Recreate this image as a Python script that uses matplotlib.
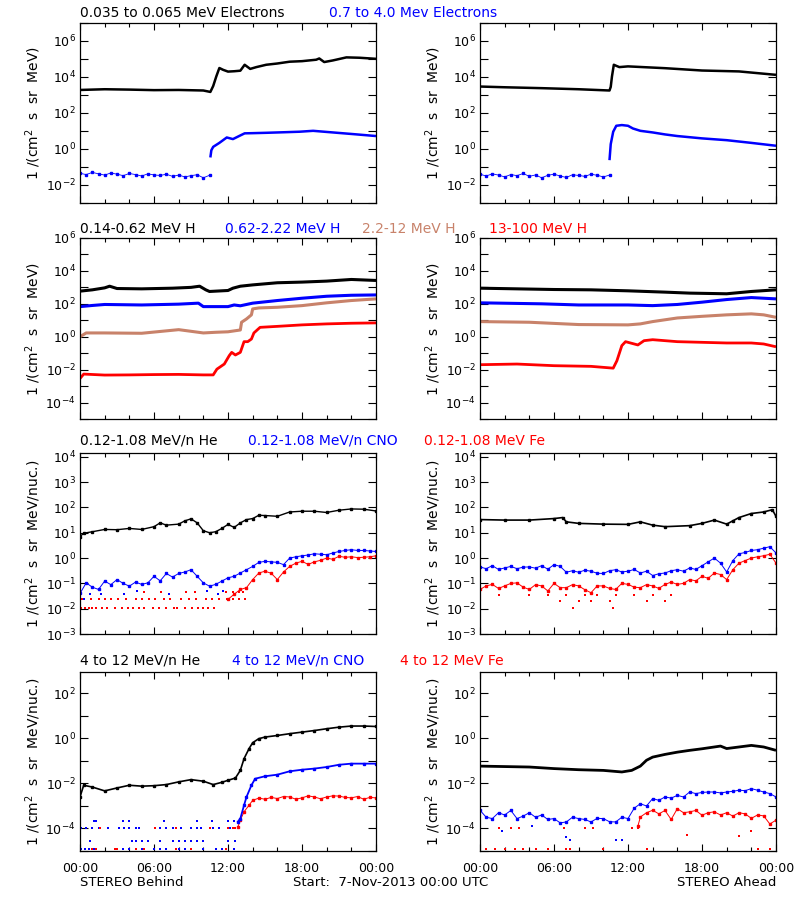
import numpy as np
import matplotlib.pyplot as plt
from matplotlib.ticker import FixedLocator, FuncFormatter

BLUE = '#0000ff'
RED = '#ff0000'
BROWN = '#c8826a'

# ---- row 1: electrons (values are log10 of intensity) ----
e_bg_t = [0, 0.5, 1, 1.5, 2, 2.5, 3, 3.5, 4, 4.5, 5, 5.5, 6, 6.5, 7, 7.5, 8, 8.5, 9, 9.5, 10, 10.5]
el_lo_b_t = [0, 2, 4, 6, 8, 10, 10.57, 10.8, 11.05, 11.3, 11.6, 12.0, 12.5, 13.0, 13.35, 13.8, 14.3,
             15.1, 16, 17, 18, 19.15, 19.4, 19.8, 20.5, 21.6, 22.65, 24]
el_lo_b = [3.28, 3.32, 3.30, 3.27, 3.28, 3.25, 3.17, 3.5, 4.03, 4.5, 4.4, 4.3, 4.32, 4.35, 4.68, 4.45, 4.55,
           4.68, 4.75, 4.85, 4.88, 4.96, 5.03, 4.83, 4.92, 5.09, 5.07, 5.01]
el_hi_b_bg = [-1.35, -1.42, -1.30, -1.38, -1.45, -1.33, -1.40, -1.48, -1.36, -1.42, -1.50,
              -1.38, -1.44, -1.47, -1.40, -1.52, -1.45, -1.55, -1.48, -1.43, -1.60, -1.46]
el_hi_b_t = [10.57, 10.65, 10.8, 11.3, 11.9, 12.4, 12.9, 13.35, 14, 15.1, 16.5, 17.8, 18.9, 20.5, 22.1, 24]
el_hi_b = [-0.47, -0.07, 0.12, 0.34, 0.64, 0.55, 0.72, 0.87, 0.88, 0.9, 0.93, 0.96, 1.01, 0.92, 0.83, 0.72]

el_lo_a_t = [0, 2, 5, 8, 10.5, 10.6, 10.7, 10.85, 11.05, 11.3, 12, 15, 18, 21, 24]
el_lo_a = [3.47, 3.43, 3.38, 3.32, 3.25, 3.45, 4.03, 4.68, 4.62, 4.55, 4.59, 4.49, 4.36, 4.31, 4.12]
el_hi_a_bg = [-1.40, -1.50, -1.38, -1.45, -1.55, -1.42, -1.48, -1.36, -1.52, -1.44, -1.60,
              -1.46, -1.40, -1.50, -1.58, -1.43, -1.47, -1.52, -1.40, -1.46, -1.55, -1.45]
el_hi_a_t = [10.5, 10.6, 10.8, 11.05, 11.5, 12, 12.4, 13, 14, 15, 16, 18, 20, 22, 24]
el_hi_a = [-0.62, 0.27, 0.96, 1.29, 1.33, 1.29, 1.14, 1.01, 0.92, 0.81, 0.72, 0.59, 0.49, 0.34, 0.18]

# ---- row 2: protons ----
h1_b_t = [0, 1, 2, 2.4, 3, 5, 7.5, 9, 9.7, 10.2, 10.5, 12, 12.4, 13, 14, 16, 18, 20, 22, 24]
h1_b = [2.77, 2.85, 2.97, 3.07, 2.93, 2.91, 2.95, 3.0, 3.07, 2.85, 2.75, 2.81, 2.95, 3.07, 3.15, 3.28, 3.32, 3.38, 3.48, 3.42]
h2_b_t = [0, 1, 2, 5, 8, 9.6, 10, 12, 12.5, 13, 14, 16, 18, 20, 22, 24]
h2_b = [1.83, 1.9, 1.96, 1.93, 1.98, 2.04, 1.83, 1.83, 1.93, 1.88, 2.04, 2.2, 2.34, 2.46, 2.52, 2.54]
h3_b_t = [0, 0.5, 2, 5, 8, 10, 11, 12, 13, 13.1, 13.5, 13.9, 14, 14.5, 16, 18, 20, 22, 24]
h3_b = [0.0, 0.23, 0.23, 0.21, 0.43, 0.23, 0.27, 0.3, 0.41, 0.88, 1.08, 1.33, 1.69, 1.75, 1.79, 1.89, 2.06, 2.2, 2.3]
h4_b_t = [0, 0.3, 2, 4, 6, 8, 10, 10.8, 11.1, 11.7, 12.1, 12.3, 12.6, 13.0, 13.3, 13.6, 13.9, 14.1, 14.6, 16, 18, 20, 22, 24]
h4_b = [-2.54, -2.27, -2.33, -2.32, -2.30, -2.29, -2.32, -2.32, -1.97, -1.66, -1.15, -0.95, -1.11, -0.95, -0.30,
        -0.30, -0.14, 0.23, 0.57, 0.63, 0.72, 0.78, 0.82, 0.84]

h1_a_t = [0, 3, 6, 9, 12, 15, 17, 20, 22, 24]
h1_a = [2.95, 2.91, 2.87, 2.85, 2.79, 2.71, 2.65, 2.61, 2.75, 2.85]
h2_a_t = [0, 5, 8, 12, 14, 16, 18, 20, 22, 24]
h2_a = [2.06, 2.0, 1.93, 1.93, 1.89, 1.96, 2.1, 2.26, 2.38, 2.3]
h3_a_t = [0, 4, 8, 12, 13, 14, 16, 18, 20, 22, 23, 24]
h3_a = [0.92, 0.88, 0.74, 0.72, 0.78, 0.92, 1.14, 1.24, 1.33, 1.39, 1.33, 1.18]
h4_a_t = [0, 3, 6, 9, 10.8, 11.1, 11.5, 11.8, 12.2, 12.8, 13.3, 14, 16, 18, 20, 22, 23, 24]
h4_a = [-1.70, -1.66, -1.76, -1.80, -1.91, -1.46, -0.54, -0.30, -0.38, -0.50, -0.24, -0.18, -0.30, -0.34,
        -0.38, -0.38, -0.44, -0.61]

# ---- row 3: 0.12-1.08 MeV/n heavy ions ----
half_t = [0, 0.5, 1, 1.5, 2, 2.5, 3, 3.5, 4, 4.5, 5, 5.5, 6, 6.5, 7, 7.5, 8, 8.5, 9, 9.5,
          10, 10.5, 11, 11.5, 12, 12.5, 13, 13.5, 14, 14.5, 15, 15.5, 16, 16.5, 17, 17.5, 18, 18.5, 19, 19.5,
          20, 20.5, 21, 21.5, 22, 22.5, 23, 23.5, 24]
he1_b_t = [0, 0.3, 1, 2, 3, 4, 5, 6, 6.5, 7, 8, 8.5, 9, 9.5, 10, 10.5, 11, 11.5, 12, 12.5, 13, 13.5,
           14, 14.5, 15, 16, 17, 18, 19, 20, 21, 22, 23, 24]
he1_b = [0.85, 0.98, 1.04, 1.13, 1.12, 1.17, 1.13, 1.24, 1.39, 1.30, 1.34, 1.47, 1.55, 1.39, 1.08, 1.0, 1.04,
         1.17, 1.33, 1.21, 1.39, 1.52, 1.56, 1.69, 1.68, 1.65, 1.82, 1.85, 1.85, 1.80, 1.89, 1.94, 1.93, 1.86]
cno1_b = [-1.40, -0.98, -1.15, -1.24, -0.91, -1.05, -0.85, -1.00, -1.11, -0.95,
          -1.04, -0.98, -0.72, -0.90, -0.61, -0.75, -0.61, -0.55, -0.46, -0.72,
          -0.98, -1.11, -1.04, -0.91, -0.78, -0.72, -0.59, -0.46, -0.33, -0.17,
          -0.13, -0.15, -0.17, -0.26, 0.00, 0.05, 0.09, 0.12, 0.17, 0.15,
          0.13, 0.20, 0.26, 0.30, 0.33, 0.30, 0.30, 0.28, 0.26]
cno1_b_low_t = [0, 0.3, 0.8, 1.7, 3.6, 4.6, 7.2, 10.3, 11.2, 11.6]
cno1_b_low = [-1.63, -1.63, -1.43, -1.43, -1.43, -1.30, -1.43, -1.30, -1.43, -1.30]
fe1_b_l1_t = [0.1, 0.4, 0.7, 1.0, 1.3, 1.8, 2.2, 2.8, 3.4, 3.9, 4.3, 4.8, 5.2, 5.9, 6.4, 7.0,
              7.6, 7.9, 8.5, 9.1, 9.6, 10.0, 10.4, 10.9]
fe1_b_l2_t = [0.2, 0.9, 1.5, 2.0, 2.5, 3.1, 3.7, 4.5, 5.0, 5.6, 6.1, 6.8, 7.3, 8.2, 8.8, 9.4, 10.2,
              10.7, 11.3, 11.9, 12.4, 12.9, 13.4]
fe1_b_l3_t = [5.2, 6.6, 8.6, 9.3, 11.8, 12.4, 12.9, 13.2]
fe1_b_t = [12, 12.5, 13, 13.5, 14, 14.5, 15, 15.5, 16, 16.5, 17, 17.5, 18, 18.5, 19, 19.5, 20, 20.5,
           21, 21.5, 22, 22.5, 23, 23.5, 24]
fe1_b = [-1.63, -1.43, -1.24, -1.17, -0.85, -0.59, -0.52, -0.60, -0.85, -0.55, -0.33, -0.20, -0.13, -0.25,
         -0.15, -0.09, 0.0, -0.05, 0.07, 0.03, 0.05, 0.02, 0.03, 0.05, 0.09]

he1_a_t = [0, 2, 4, 6, 6.7, 7, 8, 10, 12, 13, 14, 15, 17, 18, 19, 20, 20.5, 21, 22, 23, 23.7, 24]
he1_a = [1.52, 1.50, 1.50, 1.56, 1.60, 1.43, 1.37, 1.34, 1.33, 1.43, 1.30, 1.24, 1.28, 1.37, 1.50, 1.34,
         1.47, 1.60, 1.76, 1.82, 1.91, 1.65]
cno1_a = [-0.35, -0.42, -0.30, -0.45, -0.39, -0.33, -0.42, -0.36, -0.35, -0.40,
          -0.30, -0.44, -0.26, -0.33, -0.56, -0.50, -0.56, -0.48, -0.52, -0.60,
          -0.61, -0.50, -0.46, -0.55, -0.52, -0.45, -0.59, -0.52, -0.69, -0.62,
          -0.59, -0.50, -0.46, -0.52, -0.39, -0.45, -0.30, -0.15, 0.00, -0.20,
          -0.55, -0.10, 0.17, 0.22, 0.30, 0.33, 0.39, 0.45, 0.20]
fe1_a = [-1.24, -1.10, -1.04, -1.20, -1.10, -1.00, -0.98, -1.15, -1.24, -1.05,
         -1.10, -1.30, -1.00, -1.17, -1.17, -1.05, -1.10, -1.25, -1.37, -1.10,
         -1.10, -1.20, -1.24, -1.00, -1.04, -1.15, -1.17, -1.05, -1.10, -1.20,
         -1.04, -0.95, -1.04, -1.00, -0.85, -0.90, -0.72, -0.80, -0.59, -0.65,
         -0.85, -0.46, -0.20, -0.10, 0.00, 0.05, 0.09, 0.15, -0.20]
fe1_a_low_t = [1.5, 4.0, 5.5, 7.0, 8.5, 9.5, 11.0, 12.5, 14.0, 15.5, 6.5, 8.0, 9.0, 10.5, 13.5, 15.0, 7.5, 10.8]
fe1_a_low = [-1.45, -1.45, -1.45, -1.45, -1.45, -1.45, -1.45, -1.45, -1.45, -1.45,
             -1.70, -1.70, -1.70, -1.70, -1.70, -1.70, -1.98, -1.98]

# ---- row 4: 4-12 MeV/n heavy ions ----
he2_b_t = [0, 0.3, 1, 2, 3, 4, 5, 6, 7, 8, 9, 10, 10.8, 11.5, 12, 12.6, 13, 13.3, 13.7, 14, 14.5, 15,
           16, 17, 18, 19, 20, 21, 22, 23, 24]
he2_b = [-2.6, -2.08, -2.16, -2.33, -2.2, -2.08, -2.12, -2.1, -2.05, -1.93, -1.83, -1.9, -2.05, -1.95,
         -1.86, -1.76, -1.42, -0.9, -0.46, -0.19, -0.01, 0.06, 0.13, 0.21, 0.28, 0.35, 0.43, 0.5, 0.55, 0.55, 0.53]
cno2_b_low_t = [0.1, 0.5, 1.0, 1.5, 2.3, 3.2, 3.6, 4.0, 4.5, 4.8, 6.5, 7.0, 7.5, 7.8, 8.2, 9.0, 9.5, 9.8,
                10.8, 11.3, 12.2,
                1.1, 1.3, 3.5, 4.0, 6.8, 9.5, 10.7, 12.0, 12.5,
                0.8, 4.2, 4.5, 5.0, 5.5, 6.5, 7.5, 8.0, 8.5, 9.0, 9.5, 10.0, 12.0, 12.6,
                0.1, 0.4, 0.7, 1.1, 3.5, 4.0, 4.5, 5.0, 6.0, 6.5, 7.0, 8.0, 8.5, 9.0, 10.0, 11.0, 11.5, 12.5]
cno2_b_low = [-4.0] * 21 + [-3.65] * 9 + [-4.55] * 14 + [-4.92] * 18
cno2_b_t = [12.8, 13.0, 13.3, 13.5, 13.9, 14.2, 15, 16, 17, 18, 19, 20, 21, 22, 23, 24]
cno2_b = [-3.7, -3.56, -2.97, -2.6, -2.08, -1.79, -1.68, -1.61, -1.46, -1.39, -1.34, -1.27, -1.17, -1.12, -1.12, -1.12]
fe2_b_low_t = [1.6, 6.1, 7.8, 10.5, 12.0, 12.4, 12.6, 1.0, 1.3, 2.8, 3.0, 4.5, 5.2, 7.8, 9.0, 11.8]
fe2_b_low = [-4.0] * 7 + [-4.92] * 9
fe2_b_t = [12.8, 13.0, 13.3, 13.7, 14, 14.5, 15, 15.5, 16, 16.5, 17, 17.5, 18, 18.5, 19, 19.5, 20, 20.5,
           21, 21.5, 22, 22.5, 23, 23.5, 24]
fe2_b = [-3.93, -3.63, -3.26, -2.97, -2.75, -2.65, -2.70, -2.62, -2.67, -2.58, -2.60, -2.70, -2.64, -2.55,
         -2.60, -2.68, -2.60, -2.55, -2.56, -2.62, -2.64, -2.58, -2.70, -2.62, -2.64]

he2_a_t = [0, 2, 4, 6, 8, 10, 11.5, 12.3, 13, 13.5, 14, 15, 16, 17, 18, 19, 19.5, 20, 21, 22, 23, 24]
he2_a = [-1.23, -1.25, -1.27, -1.34, -1.39, -1.42, -1.49, -1.42, -1.23, -0.97, -0.83, -0.71, -0.61, -0.53,
         -0.46, -0.38, -0.34, -0.45, -0.38, -0.31, -0.38, -0.53]
cno2_a = [-3.19, -3.50, -3.56, -3.30, -3.40, -3.20, -3.56, -3.45, -3.30, -3.50,
          -3.40, -3.60, -3.56, -3.75, -3.71, -3.50, -3.56, -3.60, -3.71, -3.55,
          -3.56, -3.70, -3.71, -3.50, -3.56, -3.10, -2.90, -3.00, -2.67, -2.75,
          -2.60, -2.65, -2.53, -2.60, -2.38, -2.45, -2.40, -2.38, -2.38, -2.42,
          -2.38, -2.35, -2.30, -2.32, -2.23, -2.30, -2.38, -2.45, -2.60]
cno2_a_low_t = [7.0, 7.3, 11.0, 11.5, 1.8, 4.2]
cno2_a_low = [-4.4, -4.5, -4.5, -4.5, -4.1, -3.9]
fe2_a_low_t = [1.5, 2.5, 3.2, 6.8, 8.5, 9.2, 12.3, 12.8, 0.5, 1.2, 2.0, 2.8, 3.5, 4.5, 5.5, 7.0, 7.3, 10.0,
               13.5, 22.5, 23.5, 16.8, 21.0, 22.0]
fe2_a_low = [-4.0] * 8 + [-4.92] * 13 + [-4.3, -4.35, -4.1]
fe2_a_t = [12.8, 13, 13.5, 14, 14.5, 15, 15.5, 16, 16.5, 17, 17.5, 18, 18.5, 19, 19.5, 20, 20.5, 21, 21.5,
           22, 22.5, 23, 23.5, 24]
fe2_a = [-3.9, -3.49, -3.3, -3.19, -3.35, -3.2, -3.6, -3.12, -3.3, -3.26, -3.2, -3.41, -3.3, -3.26, -3.4,
         -3.3, -3.45, -3.3, -3.35, -3.55, -3.4, -3.44, -3.8, -3.63]

ylims = [(1e-3, 1e7), (1e-5, 1e6), (1e-3, 10 ** 4.15), (1e-5, 10 ** 2.95)]
label_decades = [[-2, 0, 2, 4, 6], [-4, -2, 0, 2, 4, 6], [-3, -2, -1, 0, 1, 2, 3, 4], [-4, -2, 0, 2]]
ylabels = ['1 /(cm$^2$  s  sr  MeV)', '1 /(cm$^2$  s  sr  MeV)',
           '1 /(cm$^2$  s  sr  MeV/nuc.)', '1 /(cm$^2$  s  sr  MeV/nuc.)']
row_titles = [
    [('0.035 to 0.065 MeV Electrons', 'black', 80), ('0.7 to 4.0 Mev Electrons', BLUE, 329)],
    [('0.14-0.62 MeV H', 'black', 80), ('0.62-2.22 MeV H', BLUE, 225),
     ('2.2-12 MeV H', BROWN, 362), ('13-100 MeV H', RED, 489)],
    [('0.12-1.08 MeV/n He', 'black', 80), ('0.12-1.08 MeV/n CNO', BLUE, 248), ('0.12-1.08 MeV Fe', RED, 424)],
    [('4 to 12 MeV/n He', 'black', 80), ('4 to 12 MeV/n CNO', BLUE, 232), ('4 to 12 MeV Fe', RED, 400)],
]
title_y = [13, 229, 441, 661]
row_px = [(23, 203), (238, 419), (453, 634), (672, 851)]

plt.rcParams['font.family'] = 'DejaVu Sans'
plt.rcParams['font.size'] = 9
fig = plt.figure(figsize=(8, 9), dpi=100)
W, H = 800, 900


def line(ax, t, v, c, lw=2.0):
    ax.plot(t, 10 ** np.array(v), '-', color=c, lw=lw, solid_capstyle='butt')


def dots(ax, t, v, c, lw=0.6):
    ax.plot(t, 10 ** np.array(v), '-' if lw else 'none', color=c, lw=lw, marker='s', ms=1.8, mec=c, mfc=c)


def pts(ax, t, v, c):
    ax.plot(t, 10 ** np.array(v), 's', color=c, ms=1.8, mew=0)


axes = []
for r in range(4):
    y0, y1 = row_px[r]
    row = []
    for c, x0 in enumerate([80, 480]):
        ax = fig.add_axes([x0 / W, 1 - y1 / H, 296 / W, (y1 - y0) / H])
        ax.set_yscale('log')
        ax.set_xlim(0, 24)
        ax.set_ylim(*ylims[r])
        lo, hi = np.log10(ylims[r])
        dec = list(range(int(np.ceil(lo)), int(np.floor(hi)) + 1))
        ax.yaxis.set_major_locator(FixedLocator([10.0 ** d for d in dec]))
        ax.yaxis.set_minor_locator(FixedLocator([]))
        labs = label_decades[r]
        ax.yaxis.set_major_formatter(FuncFormatter(
            lambda v, p, labs=labs: ('$10^{%d}$' % round(np.log10(v))) if round(np.log10(v)) in labs else ''))
        ax.set_xticks([0, 6, 12, 18, 24])
        ax.set_xticks([2, 4, 8, 10, 14, 16, 20, 22], minor=True)
        ax.tick_params(which='both', direction='in', top=True, right=True, width=0.8, labelsize=9)
        ax.tick_params(axis='y', which='major', length=6, pad=3)
        ax.tick_params(axis='x', which='major', length=5)
        ax.tick_params(axis='x', which='minor', length=3)
        if r == 3:
            ax.set_xticklabels(['00:00', '06:00', '12:00', '18:00', '00:00'])
            ax.tick_params(axis='x', pad=8)
        else:
            ax.set_xticklabels([])
        ax.set_ylabel(ylabels[r], fontsize=10, labelpad=2)
        for s in ax.spines.values():
            s.set_linewidth(0.9)
        row.append(ax)
    axes.append(row)

# row 1
a, b = axes[0]
line(a, el_lo_b_t, el_lo_b, 'black', 1.8)
dots(a, e_bg_t, el_hi_b_bg, BLUE)
line(a, el_hi_b_t, el_hi_b, BLUE, 1.8)
line(b, el_lo_a_t, el_lo_a, 'black', 1.8)
dots(b, e_bg_t, el_hi_a_bg, BLUE)
line(b, el_hi_a_t, el_hi_a, BLUE, 1.8)

# row 2
a, b = axes[1]
line(a, h1_b_t, h1_b, 'black', 2.2)
line(a, h2_b_t, h2_b, BLUE, 2.2)
line(a, h3_b_t, h3_b, BROWN, 2.2)
line(a, h4_b_t, h4_b, RED, 2.0)
line(b, h1_a_t, h1_a, 'black', 2.2)
line(b, h2_a_t, h2_a, BLUE, 2.2)
line(b, h3_a_t, h3_a, BROWN, 2.2)
line(b, h4_a_t, h4_a, RED, 2.0)

# row 3
a, b = axes[2]
dots(a, he1_b_t, he1_b, 'black', 1.0)
dots(a, half_t, cno1_b, BLUE, 0.7)
pts(a, cno1_b_low_t, cno1_b_low, BLUE)
pts(a, fe1_b_l1_t, [-1.98] * len(fe1_b_l1_t), RED)
pts(a, fe1_b_l2_t, [-1.63] * len(fe1_b_l2_t), RED)
pts(a, fe1_b_l3_t, [-1.35] * len(fe1_b_l3_t), RED)
dots(a, fe1_b_t, fe1_b, RED, 0.7)
dots(b, he1_a_t, he1_a, 'black', 1.2)
dots(b, half_t, cno1_a, BLUE, 0.7)
dots(b, half_t, fe1_a, RED, 0.7)
pts(b, fe1_a_low_t, fe1_a_low, RED)

# row 4
a, b = axes[3]
dots(a, he2_b_t, he2_b, 'black', 1.2)
pts(a, cno2_b_low_t, cno2_b_low, BLUE)
pts(a, fe2_b_low_t, fe2_b_low, RED)
dots(a, fe2_b_t, fe2_b, RED, 0.7)
dots(a, cno2_b_t, cno2_b, BLUE, 1.3)
line(b, he2_a_t, he2_a, 'black', 2.0)
dots(b, half_t, cno2_a, BLUE, 0.7)
pts(b, cno2_a_low_t, cno2_a_low, BLUE)
dots(b, fe2_a_t, fe2_a, RED, 0.7)
pts(b, fe2_a_low_t, fe2_a_low, RED)

for r in range(4):
    for text, col, x in row_titles[r]:
        fig.text(x / W, 1 - title_y[r] / H, text, color=col, fontsize=10, va='center', ha='left')

fig.text(80 / W, 1 - 882 / H, 'STEREO Behind', fontsize=9.5, va='center', ha='left')
fig.text(293 / W, 1 - 882 / H, 'Start:  7-Nov-2013 00:00 UTC', fontsize=9.5, va='center', ha='left')
fig.text(776 / W, 1 - 882 / H, 'STEREO Ahead', fontsize=9.5, va='center', ha='right')

fig.savefig('out.png', dpi=100, facecolor='white')
